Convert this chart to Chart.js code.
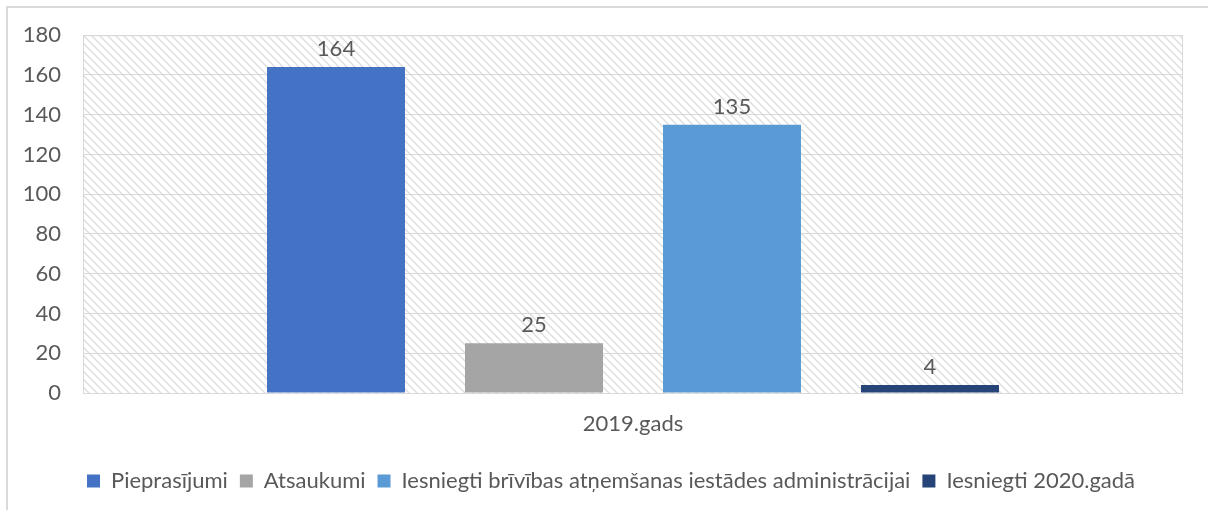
<!DOCTYPE html>
<html>
<head>
<meta charset="utf-8">
<script src="https://cdn.jsdelivr.net/npm/chart.js@4"></script>
<style>
  html, body { margin: 0; padding: 0; background: #fff; }
  #wrap { position: relative; width: 1208px; height: 510px; overflow: hidden; }
  #frame { position: absolute; left: 6px; top: 6px; width: 1220px; height: 520px;
           border-left: 2px solid #d9d9d9; border-top: 2px solid #d9d9d9; }
  canvas { position: absolute; left: 0; top: 0; }
</style>
</head>
<body>
<div id="wrap">
  <div id="frame"></div>
  <canvas id="chart" width="1208" height="510"></canvas>
</div>
<script>
// Chart data
const categories = ['2019.gads'];
const seriesNames = [
    'Pieprasījumi',
    'Atsaukumi',
    'Iesniegti brīvības atņemšanas iestādes administrācijai',
    'Iesniegti 2020.gadā'
];
const seriesValues = [[164], [25], [135], [4]];
const seriesColors = ['#4472C4', '#A5A5A5', '#5B9BD5', '#264478'];

const textColor = '#595959';
const fontFamily = 'Lato, "Open Sans", sans-serif';
const fontSize = 22;

// Hatched plot background + frame around the plot area
const plotArea = {
    id: 'plotArea',
    beforeDraw(chart) {
        const { ctx, chartArea: a } = chart;
        const tile = document.createElement('canvas');
        tile.width = 8; tile.height = 8;
        const t = tile.getContext('2d');
        t.strokeStyle = '#dcdcdc';
        t.lineWidth = 1.3;
        t.beginPath();
        t.moveTo(-2, -2); t.lineTo(10, 10);
        t.moveTo(-2, 6); t.lineTo(2, 10);
        t.moveTo(6, -2); t.lineTo(10, 2);
        t.stroke();
        ctx.save();
        ctx.fillStyle = ctx.createPattern(tile, 'repeat');
        ctx.fillRect(a.left, a.top, a.right - a.left, a.bottom - a.top);
        ctx.restore();
    },
    afterDraw(chart) {
        const { ctx, chartArea: a } = chart;
        ctx.save();
        ctx.strokeStyle = '#d9d9d9';
        ctx.lineWidth = 1;
        ctx.strokeRect(a.left + 0.5, a.top + 0.5, a.right - a.left - 1, a.bottom - a.top);
        ctx.restore();
    }
};

// The legend sits a little right of the canvas centre in the original
const legendShift = {
    id: 'legendShift',
    afterLayout(chart) {
        if (!chart.legend) return;
        chart.legend.left += 16;
        chart.legend.right += 16;
    }
};

// Value labels above the bars
const valueLabels = {
    id: 'valueLabels',
    afterDatasetsDraw(chart) {
        const { ctx } = chart;
        ctx.save();
        ctx.fillStyle = textColor;
        ctx.font = fontSize + 'px ' + fontFamily;
        ctx.textAlign = 'center';
        ctx.textBaseline = 'bottom';
        chart.data.datasets.forEach((ds, i) => {
            chart.getDatasetMeta(i).data.forEach((bar, j) => {
                ctx.fillText(String(ds.data[j]), bar.x, bar.y - 7);
            });
        });
        ctx.restore();
    }
};

new Chart(document.getElementById('chart').getContext('2d'), {
    type: 'bar',
    data: {
        labels: categories,
        datasets: seriesNames.map((name, i) => ({
            label: name,
            data: seriesValues[i],
            backgroundColor: seriesColors[i],
            categoryPercentage: 0.72,
            barPercentage: 0.697
        }))
    },
    options: {
        responsive: false,
        animation: false,
        layout: { padding: { left: 7, right: 25, top: 32, bottom: 8 } },
        plugins: {
            legend: {
                position: 'bottom',
                labels: {
                    color: textColor,
                    font: { family: fontFamily, size: fontSize },
                    boxWidth: 13,
                    boxHeight: 13,
                    padding: 12
                }
            },
            tooltip: { enabled: false }
        },
        scales: {
            x: {
                grid: { display: false },
                border: { display: false },
                ticks: { color: textColor, font: { family: fontFamily, size: fontSize }, padding: 10 },
                afterFit(s) { s.height = 65; }
            },
            y: {
                min: 0,
                max: 180,
                ticks: { stepSize: 20, color: textColor, font: { family: fontFamily, size: fontSize }, padding: 22 },
                grid: { color: '#d9d9d9', drawTicks: false },
                border: { display: false },
                afterFit(s) { s.width = 76; }
            }
        }
    },
    plugins: [plotArea, legendShift, valueLabels]
});
</script>
</body>
</html>
